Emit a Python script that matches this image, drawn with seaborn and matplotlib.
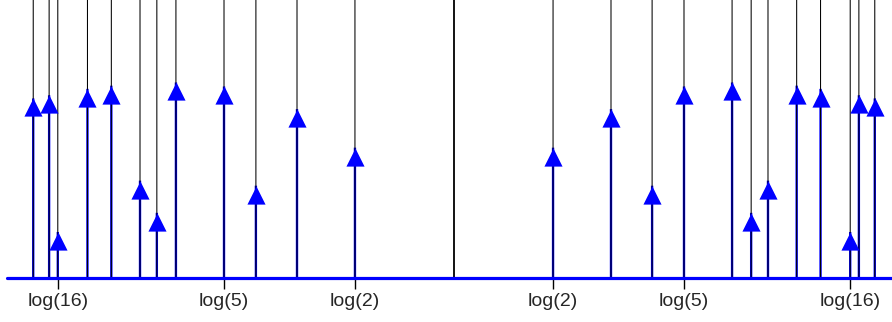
import numpy as np
import seaborn as sns
import matplotlib.pyplot as plt
from matplotlib.path import Path
from matplotlib.markers import MarkerStyle

# prime powers n whose log(n) carries a spike, and the spike heights
n_values = [2, 3, 4, 5, 7, 8, 9, 11, 13, 16, 17, 19]
heights = [0.49, 0.635, 0.347, 0.72, 0.735, 0.245, 0.366, 0.723, 0.711, 0.173, 0.687, 0.675]
tick_n = [16, 5, 2]
tick_labels = ["log(16)", "log(5)", "log(2)"]

sns.set_style("white")
plt.rcParams['font.family'] = ['Liberation Sans', 'DejaVu Sans']

pos = np.log(n_values)
xs = np.concatenate([-pos, pos])
hs = np.concatenate([heights, heights])

fig = plt.figure(figsize=(8.92, 3.22), dpi=100)
ax = fig.add_axes([7 / 892, 44 / 322, 885 / 892, 278 / 322])
ax.set_xlim(-3.128, 3.065)
ax.set_ylim(0, 1.045)

# thin black lines over the full height at every +-log(n), plus the centre line
ax.vlines(xs, 0, 1.045, color='black', lw=0.75, zorder=3, snap=False)
ax.vlines([0], 0, 1.045, color='black', lw=1.3, zorder=3)

# blue stems under the black lines, with triangular heads
ax.vlines(xs, 0, hs, color='blue', lw=1.7, zorder=2, snap=False)
head = MarkerStyle(Path([(-0.5, -1.0), (0.5, -1.0), (0.0, 0.0), (-0.5, -1.0)],
                        [Path.MOVETO, Path.LINETO, Path.LINETO, Path.CLOSEPOLY]))
sns.scatterplot(x=xs, y=hs, marker=head, s=680, color='blue', linewidth=0,
                ax=ax, zorder=5, clip_on=False, legend=False)

ax.axhline(0, color='blue', lw=2.3, zorder=4, clip_on=False)

ticks = np.log(tick_n)
ax.set_xticks(np.concatenate([-ticks, ticks[::-1]]))
ax.set_xticklabels(tick_labels + tick_labels[::-1], fontsize=14)
ax.tick_params(axis='x', length=8, width=1, color='black', pad=3, bottom=True)
ax.set_yticks([])
for s in ax.spines.values():
    s.set_visible(False)

fig.savefig("out.png", dpi=100)
